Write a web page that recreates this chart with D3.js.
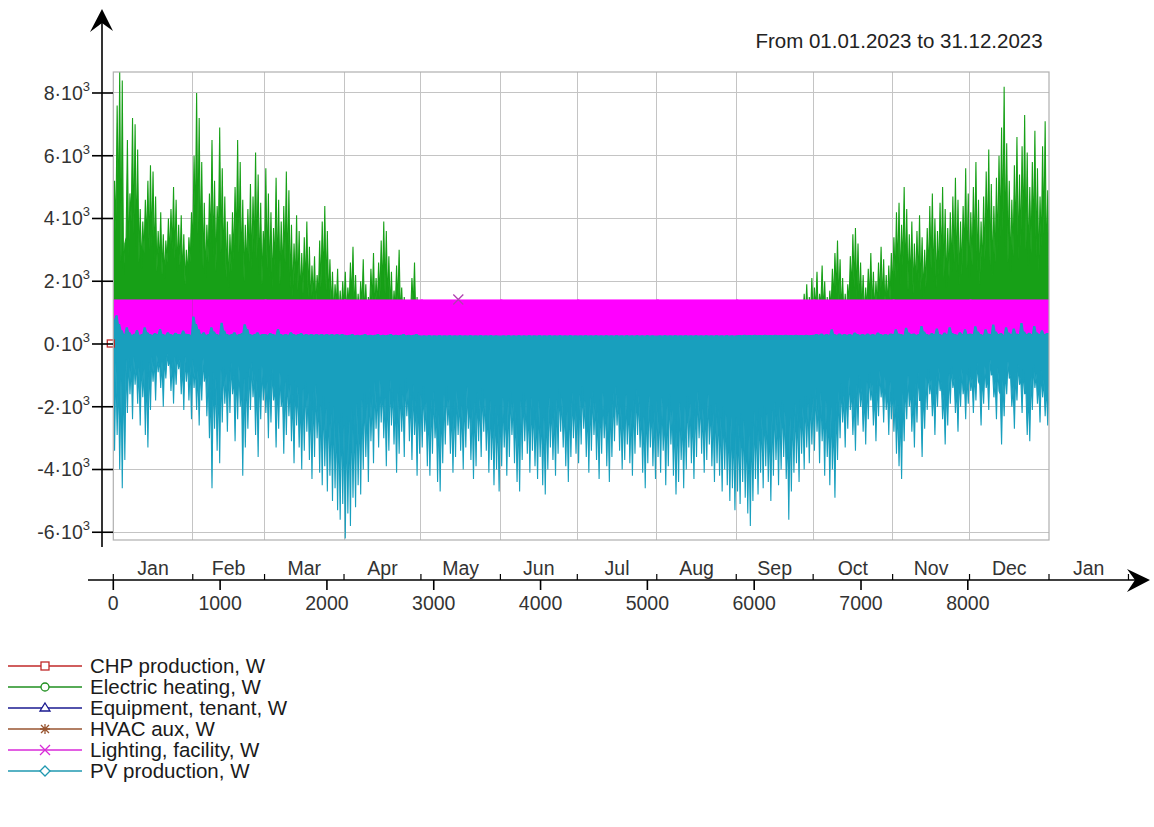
<!DOCTYPE html>
<html><head><meta charset="utf-8">
<script src="https://cdn.jsdelivr.net/npm/d3@7"></script>
<style>body{margin:0;background:#fff} svg{display:block} text{font-family:Arial,"Liberation Sans",sans-serif}</style>
</head><body><svg id="c" width="1154" height="827"></svg>
<script>
// ---------- data ----------
const title = "From 01.01.2023 to 31.12.2023";
const monthNames = ["Jan","Feb","Mar","Apr","May","Jun","Jul","Aug","Sep","Oct","Nov","Dec","Jan"];
const monthStartHours = [0,744,1416,2160,2880,3624,4344,5088,5832,6552,7296,8016,8760,9504];
const hourTicks = [0,1000,2000,3000,4000,5000,6000,7000,8000];
const yTicks = [-6000,-4000,-2000,0,2000,4000,6000,8000];
const seriesNames = ["CHP production, W","Electric heating, W","Equipment, tenant, W","HVAC aux, W","Lighting, facility, W","PV production, W"];

// Electric heating, daily maximum (W)
const elecHeatMax = [
 5200,7600,8700,8400,3200,6500,4800,7200,7000,6200,4300,3900,4600,5200,5700,5500,4700,3600,4200,3500,3300,4000,4300,5000,4600,3800,4100,3500,3000,3400,4200,
 6000,8000,7200,5800,4500,3800,4800,6500,5200,4400,6900,5600,4700,3900,3500,4200,5000,6500,5800,4600,3800,4300,5100,4700,6100,5400,4500,3600,
 5600,4800,4200,3700,5300,4600,3900,4400,5500,4900,3800,3200,4100,3600,2900,3400,3900,3100,2500,2800,2200,3300,3900,4400,3600,2700,2300,1900,2400,1700,2000,
 2300,1800,2600,3100,2200,1600,2000,2700,1900,1500,2400,2900,2100,2600,3300,3900,3600,2800,2300,1700,2500,3000,1800,1500,1400,1300,2100,2600,1500,0,
 0,0,0,0,0,0,0,0,0,0,0,0,0,0,0,0,0,0,0,0,0,0,0,0,0,0,0,0,0,0,0,
 0,0,0,0,0,0,0,0,0,0,0,0,0,0,0,0,0,0,0,0,0,0,0,0,0,0,0,0,0,0,
 0,0,0,0,0,0,0,0,0,0,0,0,0,0,0,0,0,0,0,0,0,0,0,0,0,0,0,0,0,0,0,
 0,0,0,0,0,0,0,0,0,0,0,0,0,0,0,0,0,0,0,0,0,0,0,0,0,0,0,0,0,0,0,
 0,0,0,0,0,0,0,0,0,0,0,0,0,0,0,0,0,0,0,0,0,0,0,0,0,0,1600,1900,1500,2100,
 1800,2300,1600,2500,2000,1500,1700,2400,2900,3300,2700,2100,1600,1900,2800,3500,3700,3200,2600,2200,1800,2400,2900,2300,2000,2600,3100,2700,2200,2500,2900,
 3400,4200,4500,3800,5000,4300,3500,3900,3200,3600,4100,3400,3000,3700,4400,4800,4000,3600,4500,5000,4300,3700,4200,4700,5300,4600,3900,4400,5600,4800,
 4200,5000,5800,4600,3900,4700,5500,6200,5100,4400,5300,6000,6900,8200,6400,5200,4600,5700,6600,5400,6300,7300,6100,5000,5800,6800,5600,4700,6300,7100,4900
];
// Electric heating, daily low (W)
const elecHeatLow = [
 3000,3600,4200,2600,2200,3400,2800,3900,3500,3100,2600,2400,2900,3300,3000,3100,2700,2300,2500,2200,2100,2600,2800,3000,2700,2300,2500,2100,1900,2200,2600,
 3100,3800,3500,2900,2400,2100,2600,3200,2800,2300,3300,2900,2500,2100,1800,2300,2700,3100,2900,2400,2000,2300,2600,2400,2900,2700,2200,1900,
 2700,2400,2100,1800,2500,2200,1900,2100,2600,2300,1800,1500,1900,1700,1400,1600,1800,1500,1200,1400,1100,1500,1800,2000,1700,1300,1100,900,1200,800,1000,
 1100,900,1200,1400,1000,800,900,1200,900,700,1100,1300,1000,1200,1500,1700,1600,1300,1100,800,1100,1300,900,700,700,600,1000,1200,700,0,
 0,0,0,0,0,0,0,0,0,0,0,0,0,0,0,0,0,0,0,0,0,0,0,0,0,0,0,0,0,0,0,
 0,0,0,0,0,0,0,0,0,0,0,0,0,0,0,0,0,0,0,0,0,0,0,0,0,0,0,0,0,0,
 0,0,0,0,0,0,0,0,0,0,0,0,0,0,0,0,0,0,0,0,0,0,0,0,0,0,0,0,0,0,0,
 0,0,0,0,0,0,0,0,0,0,0,0,0,0,0,0,0,0,0,0,0,0,0,0,0,0,0,0,0,0,0,
 0,0,0,0,0,0,0,0,0,0,0,0,0,0,0,0,0,0,0,0,0,0,0,0,0,0,800,900,700,1000,
 900,1100,800,1200,1000,700,800,1100,1400,1600,1300,1000,800,900,1300,1700,1800,1500,1200,1000,900,1100,1400,1100,1000,1200,1500,1300,1100,1200,1400,
 1700,2100,2300,1900,2500,2100,1700,1900,1600,1800,2000,1700,1500,1800,2200,2400,2000,1800,2200,2500,2100,1800,2100,2300,2600,2300,1900,2200,2800,2400,
 2100,2500,2900,2300,1900,2300,2700,3100,2500,2200,2600,3000,3400,3600,3100,2600,2300,2800,3300,2700,3100,3500,3000,2500,2900,3400,2800,2300,3100,3500,2400
];

// Lighting, facility: monthly range (W)
const lightMax = [1420,1420,1420,1420,1420,1420,1420,1420,1420,1420,1420,1420];
const lightMin = [230,230,230,230,230,230,230,230,230,230,230,230];

// PV production, daily upper value (W)
const pvMax = [
 750,900,620,420,300,520,360,280,310,430,280,300,520,360,300,280,330,300,460,300,280,360,300,280,340,300,290,410,310,300,280,
 860,620,450,300,360,280,300,520,380,300,280,660,410,300,280,300,360,280,300,330,610,460,300,280,300,360,280,300,
 300,280,330,300,280,460,300,280,300,280,360,300,280,300,330,280,300,280,300,280,300,280,300,280,300,280,300,280,300,280,300,
 280,260,280,300,260,280,260,280,300,260,280,260,280,300,260,280,260,280,300,260,280,260,280,300,260,280,260,280,300,260,
 250,260,250,270,250,260,250,270,250,260,250,270,250,260,250,270,250,260,250,270,250,260,250,270,250,260,250,270,250,260,250,
 250,260,250,270,250,260,250,270,250,260,250,270,250,260,250,270,250,260,250,270,250,260,250,270,250,260,250,270,250,260,
 250,260,250,270,250,260,250,270,250,260,250,270,250,260,250,270,250,260,250,270,250,260,250,270,250,260,250,270,250,260,250,
 250,260,250,270,250,260,250,270,250,260,250,270,250,260,250,270,250,260,250,270,250,260,250,270,250,260,250,270,250,260,250,
 260,270,260,280,260,270,260,280,260,270,260,280,260,270,260,280,260,270,260,280,260,270,260,280,260,270,260,280,260,270,
 280,300,280,320,280,300,280,450,300,280,320,280,300,280,300,280,350,300,280,300,280,320,280,300,280,350,300,280,300,280,320,
 300,450,320,300,280,500,350,300,320,280,300,560,380,300,280,330,300,480,300,280,350,300,520,330,300,280,360,300,450,300,
 320,300,550,380,300,280,450,320,300,600,380,300,330,280,520,350,300,480,320,300,650,380,300,340,300,560,350,300,420,300,330
];

// PV production, daily minimum (W)
const pvMin = [
 -3400,-2900,-4000,-4600,-3700,-2200,-1600,-2400,-1300,-1900,-2600,-1700,-2900,-3300,-2100,-1200,-1800,-900,-1400,-2000,-1100,-700,-1500,-1900,-1300,-800,-1600,-2100,-1200,-1800,-2400,
 -1400,-2100,-2600,-1800,-1200,-2300,-3000,-4600,-2700,-3400,-3800,-2500,-1900,-2800,-2200,-1600,-3100,-2400,-2000,-4200,-3300,-2700,-2100,-1700,-2900,-3600,-2400,-1800,
 -2200,-3000,-2500,-1800,-3300,-2700,-2000,-3500,-2900,-2300,-3100,-3800,-2600,-3300,-4000,-3400,-2800,-3700,-4300,-3600,-3000,-4100,-4500,-3900,-4700,-4200,-5000,-4600,-5300,-5600,-5100,
 -6200,-5400,-5800,-4900,-5200,-4500,-4800,-4000,-3600,-4400,-3100,-3800,-2700,-3300,-2500,-3000,-3900,-3400,-2600,-3200,-4100,-3500,-2800,-3600,-2300,-3100,-3700,-2900,-4200,-3500,
 -3300,-2800,-3900,-4200,-3500,-3000,-4400,-4700,-3800,-3200,-2600,-3500,-4100,-3600,-2900,-3400,-4000,-3300,-2700,-3700,-4300,-3900,-3100,-3600,-2800,-3400,-4100,-3700,-4500,-4000,-4700,
 -3900,-3300,-4200,-3600,-2900,-3800,-4400,-4700,-3700,-3100,-3500,-4100,-3400,-3900,-4300,-3600,-4500,-4800,-4000,-3300,-3700,-4200,-3500,-2800,-3300,-3900,-4400,-3600,-3000,-3500,
 -3800,-3200,-2700,-3600,-4100,-3400,-2900,-3700,-4300,-3500,-3000,-3900,-4400,-3600,-3100,-2600,-3400,-4000,-3700,-3200,-3800,-4200,-3500,-2900,-3300,-4100,-4600,-3800,-3300,-3900,-4300,
 -3600,-4100,-3400,-4500,-3900,-3200,-4200,-4800,-4400,-3700,-4600,-4000,-3300,-3800,-4300,-3600,-3000,-3500,-4100,-3700,-3200,-3900,-4400,-3800,-4200,-4700,-4000,-4500,-5000,-4600,-5300,
 -4700,-5100,-4400,-4900,-5400,-5800,-5000,-4300,-4800,-4100,-4600,-3900,-4400,-5000,-4200,-3700,-4500,-4000,-3600,-4300,-5600,-4700,-4100,-3800,-4400,-3500,-4000,-3300,-3800,-3200,
 -3400,-2800,-3800,-3100,-4200,-3600,-4500,-4000,-4900,-3700,-3000,-2500,-3300,-2700,-2100,-2900,-3400,-2600,-2000,-2800,-3200,-2400,-1800,-2600,-3100,-2300,-1700,-2500,-2100,-2900,-2400,
 -2800,-3500,-3900,-4300,-3100,-2400,-2000,-2800,-3300,-2500,-1800,-3600,-2700,-2100,-1600,-2300,-2900,-2000,-1500,-2400,-3200,-2600,-1900,-1400,-2200,-2800,-2000,-1600,-2400,-1900,
 -1500,-2200,-1800,-1200,-2600,-1900,-1400,-2100,-1000,-1700,-2400,-1500,-3200,-2300,-1600,-1100,-2000,-2700,-1800,-1300,-2200,-1600,-2900,-3100,-2100,-1400,-1900,-2500,-1700,-2300,-2600
];
// PV production, daily shallow value (W)
const pvBody = [
 -700,-600,-1000,-1100,-850,-500,-450,-650,-400,-550,-750,-500,-800,-900,-600,-400,-500,-350,-450,-550,-400,-300,-450,-550,-400,-350,-500,-650,-400,-500,-700,
 -500,-700,-850,-650,-450,-800,-1000,-1400,-900,-1100,-1200,-800,-700,-950,-750,-600,-1000,-800,-700,-1300,-1100,-900,-750,-600,-950,-1150,-800,-700,
 -950,-1200,-1000,-800,-1350,-1150,-900,-1500,-1200,-1000,-1300,-1600,-1150,-1350,-1700,-1400,-1200,-1550,-1800,-1500,-1300,-1750,-1950,-1650,-2050,-1850,-2200,-2000,-2350,-2500,-2200,
 -2600,-2300,-2450,-2050,-2250,-1900,-2050,-1750,-1550,-1900,-1350,-1650,-1200,-1500,-1150,-1350,-1700,-1500,-1150,-1400,-1750,-1550,-1300,-1600,-1100,-1400,-1600,-1300,-1800,-1550,
 -1600,-1350,-1850,-2000,-1750,-1500,-2100,-2250,-1850,-1600,-1350,-1750,-2000,-1800,-1500,-1700,-1950,-1600,-1350,-1800,-2050,-1850,-1550,-1750,-1400,-1700,-2000,-1800,-2200,-1950,-2250,
 -1950,-1700,-2050,-1800,-1500,-1850,-2150,-2250,-1800,-1550,-1750,-2000,-1700,-1950,-2150,-1800,-2200,-2350,-1950,-1700,-1850,-2100,-1750,-1400,-1700,-1950,-2150,-1800,-1550,-1750,
 -1900,-1600,-1350,-1800,-2000,-1700,-1500,-1850,-2150,-1750,-1550,-1950,-2150,-1800,-1550,-1350,-1700,-2000,-1850,-1600,-1900,-2100,-1750,-1450,-1650,-2050,-2300,-1900,-1650,-1950,-2150,
 -1800,-2050,-1700,-2250,-1950,-1600,-2100,-2400,-2200,-1850,-2300,-2000,-1650,-1900,-2150,-1800,-1500,-1750,-2050,-1850,-1600,-1950,-2200,-1900,-2100,-2350,-2000,-2250,-2500,-2300,-2650,
 -2350,-2550,-2200,-2450,-2700,-2900,-2500,-2150,-2400,-2050,-2300,-1950,-2200,-2500,-2100,-1850,-2250,-2000,-1800,-2150,-2800,-2350,-2050,-1900,-2200,-1750,-2000,-1650,-1900,-1600,
 -1700,-1400,-1900,-1550,-2100,-1800,-2250,-2000,-2450,-1850,-1500,-1250,-1650,-1350,-1050,-1450,-1700,-1300,-1000,-1400,-1600,-1200,-900,-1300,-1550,-1150,-850,-1250,-1050,-1450,-1200,
 -1400,-1750,-1950,-2150,-1550,-1200,-1000,-1400,-1650,-1250,-900,-1800,-1350,-1050,-800,-1150,-1450,-1000,-750,-1200,-1600,-1300,-950,-700,-1100,-1400,-1000,-800,-1200,-950,
 -750,-1100,-900,-600,-1300,-950,-700,-1050,-500,-850,-1200,-750,-1600,-1150,-800,-550,-1000,-1350,-900,-650,-1100,-800,-1450,-1550,-1050,-650,-950,-1250,-850,-1150,-1300
];

// CHP production (W): zero all year; marker positions (hour, value)
const chpValue = [0, 0];
const chpHours = [0, 8760];
const lightMarker = [3230, 1420];

// ---------- drawing ----------
const svg = d3.select("#c");
const x = d3.scaleLinear().domain([0, 8760]).range([113.3, 1049]);
const y = d3.scaleLinear().domain([-6247, 8669]).range([540, 72]);
const [pl, pr] = x.range(), [pb, pt] = y.range();

const colors = ["#c02828","#1f8f1f","#1a1a90","#985530","#d82ad8","#1f98b0"];
const cGreen = "#17a017", cMag = "#ff00ff", cTeal = "#189fbe";

svg.append("clipPath").attr("id","clip").append("rect")
  .attr("x", pl).attr("y", pt).attr("width", pr - pl).attr("height", pb - pt);

// grid
const grid = svg.append("g").attr("stroke", "#c4c4c4").attr("stroke-width", 1).attr("shape-rendering","crispEdges");
monthStartHours.filter(h => h > 0 && h < 8760).forEach(h => {
  grid.append("line").attr("x1", x(h)).attr("x2", x(h)).attr("y1", pt).attr("y2", pb);
});
yTicks.forEach(v => {
  grid.append("line").attr("x1", pl).attr("x2", pr).attr("y1", y(v)).attr("y2", y(v));
});

const plot = svg.append("g").attr("clip-path", "url(#clip)");
// each day: low at day start, peak at midday
const pts = [];
d3.range(365).forEach(d => {
  pts.push({d, h: d * 24, k: "low"});
  pts.push({d, h: d * 24 + 12, k: "peak"});
});
pts.push({d: 364, h: 8760, k: "low"});

// electric heating
plot.append("path")
  .attr("fill", cGreen).attr("stroke", cGreen).attr("stroke-width", 1.1).attr("stroke-linejoin", "miter")
  .attr("d", d3.area().x(p => x(p.h)).y0(y(0))
    .y1(p => y(p.k === "peak" ? elecHeatMax[p.d] : Math.min(elecHeatLow[p.d], elecHeatMax[p.d])))(pts));

// lighting band (monthly)
plot.selectAll("rect.light").data(d3.range(12)).join("rect")
  .attr("x", i => x(monthStartHours[i]) - (i === 0 ? 2 : 0))
  .attr("width", i => x(monthStartHours[i + 1]) - x(monthStartHours[i]) + 2)
  .attr("y", i => y(lightMax[i]))
  .attr("height", i => y(lightMin[i]) - y(lightMax[i]))
  .attr("fill", cMag);

// CHP line (zero)
plot.append("line").attr("x1", x(chpHours[0])).attr("x2", x(chpHours[1]))
  .attr("y1", y(chpValue[0])).attr("y2", y(chpValue[1])).attr("stroke", colors[0]);

// PV production
plot.append("path")
  .attr("fill", cTeal).attr("stroke", cTeal).attr("stroke-width", 1.1).attr("stroke-linejoin", "miter")
  .attr("d", d3.area().x(p => x(p.h)).y0(p => y(pvMax[p.d]))
    .y1(p => y(p.k === "peak" ? pvMin[p.d] : Math.max(pvBody[p.d], pvMin[p.d])))(pts));

// markers in plot
svg.append("rect").attr("x", x(chpHours[0]) - 6).attr("y", y(chpValue[0]) - 4)
  .attr("width", 7).attr("height", 7).attr("fill", "none").attr("stroke", colors[0]).attr("stroke-width", 1.3);
const lm = [x(lightMarker[0]), y(lightMarker[1])];
svg.append("path").attr("d", `M${lm[0]-5},${lm[1]-5}L${lm[0]+5},${lm[1]+5}M${lm[0]+5},${lm[1]-5}L${lm[0]-5},${lm[1]+5}`)
  .attr("stroke", "#b040b0").attr("stroke-width", 1.3);

// plot border
svg.append("rect").attr("x", pl).attr("y", pt).attr("width", pr - pl).attr("height", pb - pt)
  .attr("fill", "none").attr("stroke", "#b0b0b0").attr("stroke-width", 1.2);

// y axis
const axX = 102;
svg.append("line").attr("x1", axX).attr("x2", axX).attr("y1", 14).attr("y2", 547).attr("stroke", "#000").attr("stroke-width", 1.6);
svg.append("path").attr("d", `M${axX},9L${axX+11},31L${axX},23L${axX-12},32Z`).attr("fill", "#000");
yTicks.forEach(v => {
  svg.append("line").attr("x1", 92).attr("x2", 113).attr("y1", y(v)).attr("y2", y(v)).attr("stroke", "#000").attr("stroke-width", 1.6);
  const t = svg.append("text").attr("x", 90).attr("y", y(v) + 7).attr("text-anchor", "end")
    .attr("font-size", 19.5).attr("fill", "#333");
  t.append("tspan").text(`${v / 1000}·10`);
  t.append("tspan").attr("font-size", 13).attr("dy", -9).text("3");
});

// x axis
const axY = 580;
const x2 = d3.scaleLinear().domain([0, 8760]).range(x.range());
svg.append("line").attr("x1", 88).attr("x2", 1140).attr("y1", axY).attr("y2", axY).attr("stroke", "#000").attr("stroke-width", 1.6);
svg.append("path").attr("d", `M1150,${axY}L1127,${axY-11}L1135,${axY}L1127,${axY+12}Z`).attr("fill", "#000");
monthStartHours.forEach(h => {
  svg.append("line").attr("x1", x2(h)).attr("x2", x2(h)).attr("y1", axY - 6).attr("y2", axY).attr("stroke", "#000").attr("stroke-width", 1.2);
});
monthNames.forEach((m, i) => {
  svg.append("text").attr("x", x2((monthStartHours[i] + monthStartHours[i + 1]) / 2)).attr("y", 575)
    .attr("text-anchor", "middle").attr("font-size", 19.5).attr("fill", "#333").text(m);
});
hourTicks.forEach(h => {
  svg.append("line").attr("x1", x2(h)).attr("x2", x2(h)).attr("y1", axY).attr("y2", axY + 10).attr("stroke", "#000").attr("stroke-width", 1.6);
  svg.append("text").attr("x", x2(h)).attr("y", 610).attr("text-anchor", "middle")
    .attr("font-size", 19.5).attr("fill", "#333").text(h);
});

// title
svg.append("text").attr("x", 899).attr("y", 48).attr("text-anchor", "middle")
  .attr("font-size", 20.5).attr("fill", "#222").text(title);

// legend
const lg = svg.append("g");
seriesNames.forEach((name, i) => {
  const cy = 666 + i * 21, c = colors[i], mx = 45;
  lg.append("line").attr("x1", 8).attr("x2", 82).attr("y1", cy).attr("y2", cy).attr("stroke", c).attr("stroke-width", 1.3);
  const m = lg.append("g").attr("stroke", c).attr("stroke-width", 1.3).attr("fill", "#fff");
  if (i === 0) m.append("rect").attr("x", mx - 4).attr("y", cy - 4).attr("width", 8).attr("height", 8);
  if (i === 1) m.append("circle").attr("cx", mx).attr("cy", cy).attr("r", 4);
  if (i === 2) m.append("path").attr("d", `M${mx},${cy-5}L${mx+5},${cy+3}L${mx-5},${cy+3}Z`);
  if (i === 3) m.append("path").attr("fill","none").attr("d", `M${mx-5},${cy}L${mx+5},${cy}M${mx},${cy-5}L${mx},${cy+5}M${mx-4},${cy-4}L${mx+4},${cy+4}M${mx+4},${cy-4}L${mx-4},${cy+4}`);
  if (i === 4) m.append("path").attr("fill","none").attr("d", `M${mx-5},${cy-5}L${mx+5},${cy+5}M${mx+5},${cy-5}L${mx-5},${cy+5}`);
  if (i === 5) m.append("path").attr("d", `M${mx},${cy-5}L${mx+5},${cy}L${mx},${cy+5}L${mx-5},${cy}Z`);
  lg.append("text").attr("x", 90).attr("y", cy + 7).attr("font-size", 20.5).attr("fill", "#1a1a1a").text(name);
});
</script></body></html>
